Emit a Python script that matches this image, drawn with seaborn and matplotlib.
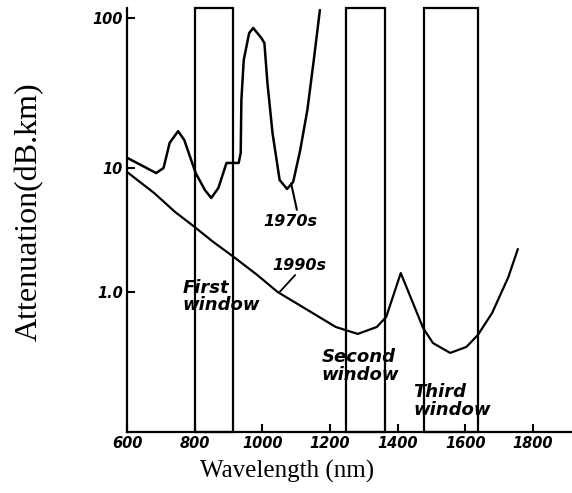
import numpy as np
import matplotlib
matplotlib.use("Agg")
import matplotlib.pyplot as plt
import seaborn as sns

# ---- data ----
wl_1970s = [600, 640, 686, 708, 726, 751, 769, 803, 830, 849, 870, 894, 909, 930,
            936, 938, 945, 961, 973, 997, 1006, 1015, 1030, 1051, 1073, 1091, 1112,
            1133, 1152, 1170]
att_1970s = [11.7, 10.5, 9.1, 10.0, 14.7, 17.6, 15.4, 9.1, 6.65, 5.73, 6.9, 10.8, 10.8, 10.8,
             12.6, 28.4, 52.5, 79.4, 85.8, 73.6, 68.1, 36.9, 17.1, 8.0, 6.77, 7.71, 13.2,
             24.4, 52.5, 113.0]

wl_1990s = [600, 680, 742, 800, 855, 915, 985, 1045, 1148, 1217, 1282, 1338, 1366, 1409,
            1445, 1475, 1504, 1555, 1603, 1637, 1679, 1727, 1755]
att_1990s = [9.29, 6.29, 4.42, 3.34, 2.53, 1.92, 1.37, 1.0, 0.703, 0.555, 0.494, 0.555, 0.657, 1.42,
             0.831, 0.546, 0.424, 0.359, 0.397, 0.486, 0.703, 1.32, 2.22]

windows = [(800, 912), (1248, 1363), (1478, 1637)]
window_names = ["First\nwindow", "Second\nwindow", "Third\nwindow"]

x_ticks = [600, 800, 1000, 1200, 1400, 1600, 1800]
y_ticks = [1.0, 10, 100]
y_ticklabels = ["1.0", "10", "100"]

# ---- style ----
sns.set_style("ticks")
plt.rcParams['font.family'] = ['DejaVu Sans']
plt.rcParams['text.color'] = 'black'
plt.rcParams['axes.labelcolor'] = 'black'
plt.rcParams['xtick.color'] = 'black'
plt.rcParams['ytick.color'] = 'black'
plt.rcParams['axes.edgecolor'] = 'black'

fig = plt.figure(figsize=(5.72, 4.93), dpi=100)
ax = fig.add_axes([127 / 572, 1 - 432 / 493, 445 / 572, 424 / 493])

sns.lineplot(x=wl_1970s, y=att_1970s, ax=ax, color="black", lw=1.8, estimator=None, sort=False)
sns.lineplot(x=wl_1990s, y=att_1990s, ax=ax, color="black", lw=1.6, estimator=None, sort=False)

# hand-drawn log axis with uneven decades (as in the scanned original)
def fwd(v):
    v = np.asarray(v, dtype=float)
    L = np.log10(np.maximum(v, 1e-12))
    return np.where(L >= 1, 124 + (L - 1) * 150, np.where(L >= 0, L * 124, L * 137))

def inv(p):
    p = np.asarray(p, dtype=float)
    return np.where(p >= 124, 10 ** (1 + (p - 124) / 150),
                    np.where(p >= 0, 10 ** (p / 124), 10 ** (p / 137)))

ax.set_yscale("function", functions=(fwd, inv))
ax.set_ylim(0.095, 116.6)
ax.set_xlim(600, 1915)

for x0, x1 in windows:
    ax.axvspan(x0, x1, fill=False, ec="black", lw=1.6, clip_on=False)

ax.set_yticks(y_ticks)
ax.set_yticklabels(y_ticklabels)
ax.yaxis.set_minor_locator(matplotlib.ticker.NullLocator())
ax.set_xticks(x_ticks)
ax.set_xticklabels([str(t) for t in x_ticks])
ax.xaxis.set_minor_locator(matplotlib.ticker.NullLocator())

ax.tick_params(direction="in", length=6, width=1.5, pad=3, labelsize=10.5, colors="black")
for lab in ax.get_xticklabels() + ax.get_yticklabels():
    lab.set_fontweight("bold")
    lab.set_fontstyle("italic")

sns.despine(ax=ax)
ax.spines["left"].set_linewidth(1.6)
ax.spines["bottom"].set_linewidth(1.6)

# window labels
txt_kw = dict(fontsize=13, fontweight="bold", fontstyle="italic", ha="left", va="center",
              linespacing=0.95, color="black")
ax.text(765, 0.927, window_names[0], **txt_kw)
ax.text(1176, 0.288, window_names[1], **txt_kw)
ax.text(1445, 0.160, window_names[2], **txt_kw)

# series labels with leaders
ax.text(1002, 3.67, "1970s", fontsize=11.5, fontweight="bold", fontstyle="italic",
        ha="left", va="center", color="black")
ax.plot([1085, 1102], [7.5, 4.6], color="black", lw=1.5)
ax.text(1029, 1.65, "1990s", fontsize=11.5, fontweight="bold", fontstyle="italic",
        ha="left", va="center", color="black")
ax.plot([1051, 1097], [1.0, 1.37], color="black", lw=1.3)

ax.set_xlabel("Wavelength (nm)", family="Liberation Serif", fontsize=18, color="black")
ax.set_ylabel("Attenuation(dB.km)", family="Liberation Serif", fontsize=23, color="black")
ax.xaxis.set_label_coords(0.36, -0.066)
ax.yaxis.set_label_coords(-0.187, 0.519)

fig.savefig("out.png", dpi=100)
